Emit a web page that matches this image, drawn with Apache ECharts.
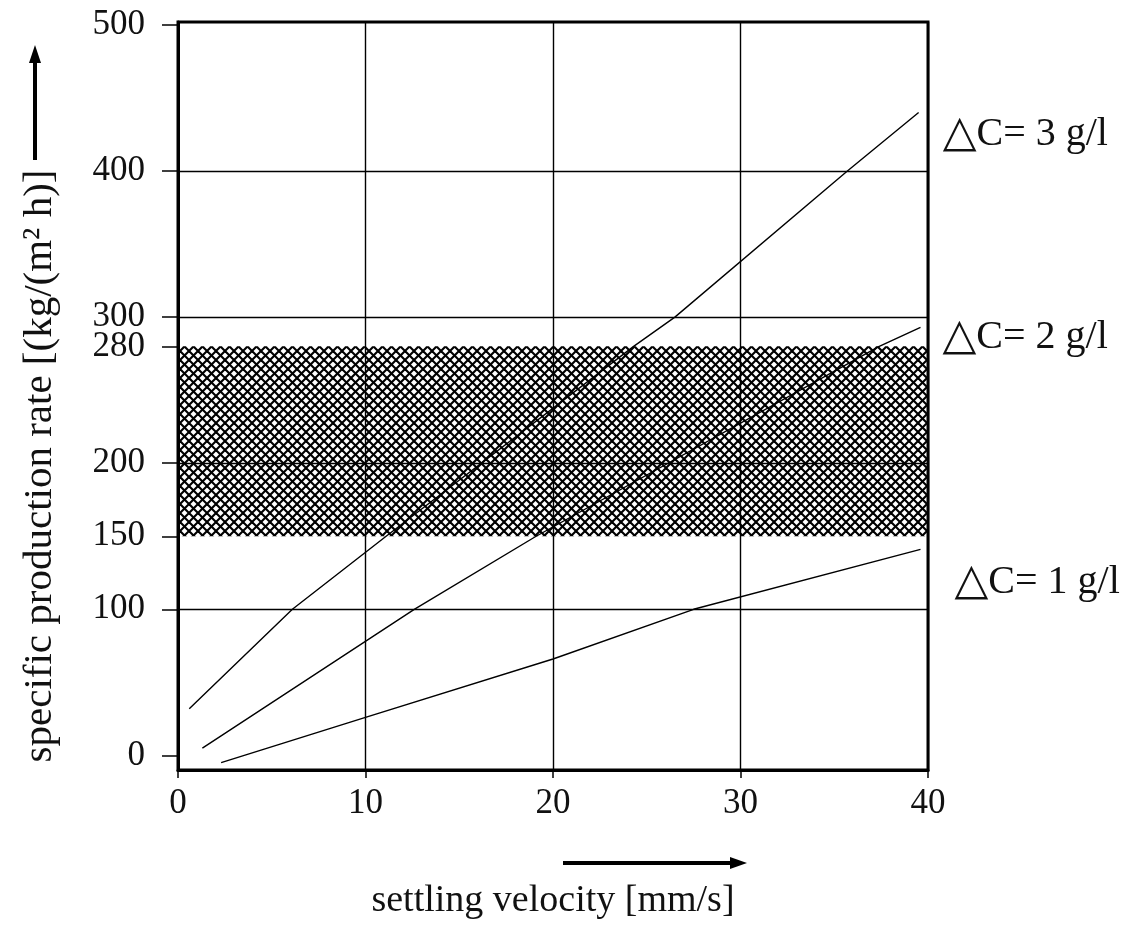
<!DOCTYPE html>
<html>
<head>
<meta charset="UTF-8">
<script src="https://cdn.jsdelivr.net/npm/echarts@6/dist/echarts.min.js"></script>
<style>
  html, body { margin: 0; padding: 0; background: #fff; }
  #chart { width: 1128px; height: 925px; }
</style>
</head>
<body>
<div id="chart"></div>
<script>
// settling velocity [mm/s] -> production rate
var xs3 = [0.6, 6.1, 11.1, 24.3, 26.5, 35.7, 39.5];
var ys3 = [32, 100, 150, 280, 300, 400, 440];
var xs2 = [1.3, 12.6, 19.1, 37.4, 39.6];
var ys2 = [5, 100, 150, 280, 293];
var xs1 = [2.3, 10, 20, 27.5, 39.6];
var ys1 = [-5, 26, 66, 100, 141];

var names = ['3 g/l', '2 g/l', '1 g/l'];
var yTicks = [0, 100, 150, 200, 280, 300, 400, 500];
var yGrid = [100, 200, 300, 400];
var band = [150, 280];

var serif = '"Liberation Serif", "DejaVu Serif", serif';

function pairs(xs, ys) {
    var out = [];
    for (var i = 0; i < xs.length; i++) out.push([xs[i], ys[i]]);
    return out;
}

// cross hatch for the shaded band
var pc = document.createElement('canvas');
pc.width = 9; pc.height = 9;
var ctx = pc.getContext('2d');
ctx.strokeStyle = '#000';
ctx.lineWidth = 2.1;
[-9, 0, 9].forEach(function (d) {
    ctx.beginPath(); ctx.moveTo(d, 0); ctx.lineTo(d + 9, 9); ctx.stroke();
    ctx.beginPath(); ctx.moveTo(d + 9, 0); ctx.lineTo(d, 9); ctx.stroke();
});

function lineSeries(name, data, dist, dy) {
    return {
        name: name, type: 'line', data: data, z: 3,
        symbol: 'none', smooth: false,
        lineStyle: { color: '#000', width: 1.4 },
        endLabel: {
            show: true, distance: dist, offset: [0, dy],
            formatter: '{t|\u25B3}{c|C= ' + name + '}',
            rich: {
                t: { fontFamily: '"DejaVu Sans"', fontSize: 44, color: '#111' },
                c: { fontFamily: serif, fontSize: 40, color: '#111' }
            }
        }
    };
}

var myChart = echarts.init(document.getElementById('chart'));
var option = {
    animation: false,
    backgroundColor: '#fff',
    grid: { left: 178, right: 200, top: 22, bottom: 137, show: true, borderColor: '#000', borderWidth: 3 },
    xAxis: {
        type: 'value', min: 0, max: 40, interval: 10,
        axisLine: { onZero: false, lineStyle: { color: '#000', width: 3 } },
        axisTick: { show: true, length: 8, lineStyle: { color: '#000', width: 1.5 } },
        axisLabel: { color: '#111', fontFamily: serif, fontSize: 35, margin: 16 },
        splitLine: { show: true, lineStyle: { color: '#000', width: 1.4 } },
        name: 'settling velocity [mm/s]', nameLocation: 'middle', nameGap: 112,
        nameTextStyle: { color: '#111', fontFamily: serif, fontSize: 38 }
    },
    yAxis: {
        type: 'value', min: -10, max: 502,
        axisLine: { onZero: false, lineStyle: { color: '#000', width: 3 } },
        axisTick: { show: true, length: 16, customValues: yTicks, lineStyle: { color: '#000', width: 1.5 } },
        axisLabel: { color: '#111', fontFamily: serif, fontSize: 35, margin: 33, customValues: yTicks },
        splitLine: { show: false }
    },
    graphic: [
        {
            type: 'text', x: 40, y: 466, rotation: Math.PI / 2,
            style: {
                text: 'specific production rate [(kg/(m\u00B2 h)]',
                fill: '#111', font: '41px ' + serif, align: 'center', verticalAlign: 'middle'
            }
        },
        { type: 'line', shape: { x1: 35, y1: 160, x2: 35, y2: 58 }, style: { stroke: '#000', lineWidth: 4 } },
        { type: 'polygon', shape: { points: [[35, 45], [29, 63], [41, 63]] }, style: { fill: '#000' } },
        { type: 'line', shape: { x1: 563, y1: 863, x2: 732, y2: 863 }, style: { stroke: '#000', lineWidth: 4 } },
        { type: 'polygon', shape: { points: [[747, 863], [730, 857], [730, 869]] }, style: { fill: '#000' } }
    ],
    series: [
        lineSeries(names[0], pairs(xs3, ys3), 24, 22),
        lineSeries(names[1], pairs(xs2, ys2), 22, 10),
        lineSeries(names[2], pairs(xs1, ys1), 34, 33),
        {
            type: 'line', data: [], z: 5, silent: true,
            markLine: {
                silent: true, symbol: 'none', label: { show: false },
                lineStyle: { color: '#000', width: 1.4, type: 'solid' },
                data: yGrid.map(function (v) { return { yAxis: v }; })
            },
            markArea: {
                silent: true,
                itemStyle: { color: { image: pc, repeat: 'repeat' } },
                data: [[{ xAxis: 0, yAxis: band[0] }, { xAxis: 40, yAxis: band[1] }]]
            }
        }
    ]
};
myChart.setOption(option);
</script>
</body>
</html>
